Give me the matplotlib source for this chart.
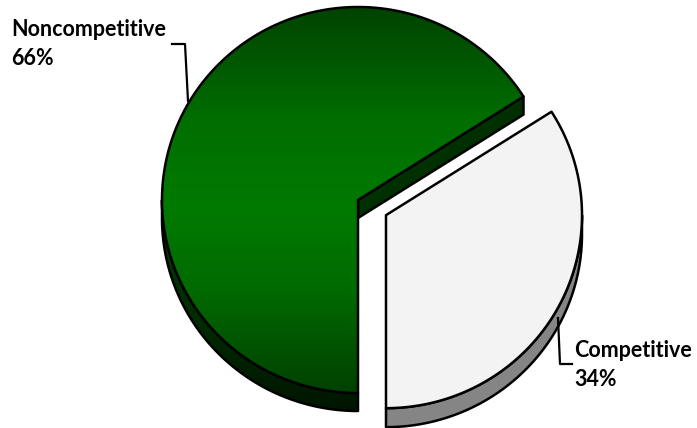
import numpy as np
import matplotlib
matplotlib.use("Agg")
import matplotlib.pyplot as plt
from matplotlib.patches import Polygon
from matplotlib.colors import to_rgb

categories = ["Noncompetitive", "Competitive"]
values = [66, 34]
pct_labels = ["66%", "34%"]

W, H = 697, 428
fig = plt.figure(figsize=(W / 100, H / 100), dpi=100)
ax = fig.add_axes([0, 0, 1, 1])
ax.set_xlim(0, W)
ax.set_ylim(H, 0)
ax.axis("off")

# geometry (pixel space)
cx, cy = 358.0, 200.0
rx, ry = 196.0, 193.0
depth = 18.0
start = 32.4
explode = [0.0, 0.163]
lw = 1.8

total = float(sum(values))
spans = [v / total * 360.0 for v in values]
angles = []
a = start
for s in spans:
    angles.append((a, a + s))
    a += s


def pt(c, t, dz=0.0):
    r = np.radians(t)
    return np.column_stack([c[0] + rx * np.cos(r), c[1] - ry * np.sin(r) + dz])


def arc(c, t0, t1, dz=0.0, n=200):
    t = np.linspace(t0, t1, n)
    return pt(c, t, dz)


def grad_image(stops_y, stops_c):
    ys = np.arange(H) + 0.5
    cols = np.array([to_rgb(c) for c in stops_c])
    img = np.zeros((H, 1, 3))
    for k in range(3):
        img[:, 0, k] = np.interp(ys, stops_y, cols[:, k])
    return img


def fill_grad(poly, img, z):
    patch = Polygon(poly, closed=True, facecolor="none", edgecolor="none", zorder=z)
    ax.add_patch(patch)
    im = ax.imshow(img, extent=(0, W, H, 0), origin="upper", aspect="auto",
                   zorder=z, interpolation="bilinear")
    im.set_clip_path(patch)


def outline(poly, z):
    ax.add_patch(Polygon(poly, closed=True, facecolor="none", edgecolor="black",
                         lw=lw, zorder=z, joinstyle="round"))


centers = []
for i, (t0, t1) in enumerate(angles):
    mid = np.radians((t0 + t1) / 2)
    e = explode[i]
    centers.append((cx + e * rx * np.cos(mid), cy - e * ry * np.sin(mid)))

green_top = grad_image([6, 120, 210, 290, 395],
                       ["#004200", "#006e00", "#007a00", "#006a00", "#004000"])
green_side = grad_image([90, 200, 300, 415],
                        ["#003800", "#004200", "#003000", "#001400"])

# ---- slice 0 : Noncompetitive ----
c0 = centers[0]
t0, t1 = angles[0]
s0, s1 = max(t0, 180), min(t1, 360)
side = np.vstack([arc(c0, s0, s1), arc(c0, s1, s0, depth)])
fill_grad(side, green_side, 1)
outline(side, 1.5)
p = pt(c0, t0)[0]
cut = np.array([c0, p, p + [0, depth], [c0[0], c0[1] + depth]])
ax.add_patch(Polygon(cut, closed=True, facecolor="#003000", edgecolor="black",
                     lw=lw, zorder=1.6, joinstyle="round"))
top0 = np.vstack([[c0], arc(c0, t0, t1), [c0]])
fill_grad(top0, green_top, 2)
outline(top0, 2.5)

# ---- slice 1 : Competitive ----
c1 = centers[1]
t0, t1 = angles[1]
s0, s1 = max(t0, 180), min(t1, 360)
side1 = np.vstack([arc(c1, s0, s1), arc(c1, s1, s0, depth + 1)])
ax.add_patch(Polygon(side1, closed=True, facecolor="#858585", edgecolor="black",
                     lw=lw, zorder=3, joinstyle="round"))
top1 = np.vstack([[c1], arc(c1, t0, t1), [c1]])
ax.add_patch(Polygon(top1, closed=True, facecolor="#f3f3f3", edgecolor="black",
                     lw=lw, zorder=4, joinstyle="round"))

# ---- labels ----
font = dict(family="Lato", fontweight="bold", color="black")
renderer = fig.canvas.get_renderer()
probe = ax.text(0, 0, categories[0], fontsize=10, **font)
wpx = probe.get_window_extent(renderer).width
probe.remove()
fs = 10 * 156.0 / wpx
font["fontsize"] = fs
ax.text(11, 35.5, categories[0], ha="left", va="baseline", **font)
ax.text(11, 65, pct_labels[0], ha="left", va="baseline", **font)
ax.text(574, 357, categories[1], ha="left", va="baseline", **font)
ax.text(574, 386.5, pct_labels[1], ha="left", va="baseline", **font)
ax.plot([172, 185, 188], [44, 44, 101], color="black", lw=1.6, zorder=5)
ax.plot([572, 560, 558], [364, 364, 318], color="black", lw=1.6, zorder=5)

fig.savefig("out.png", dpi=100)
